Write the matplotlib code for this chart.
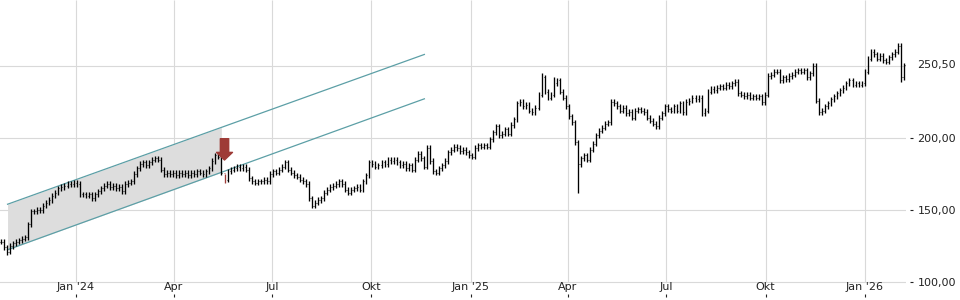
import matplotlib
matplotlib.use('Agg')
import matplotlib.pyplot as plt
import matplotlib.dates as mdates
import numpy as np
import pandas as pd

# ---------------- data ----------------
close = [
    128, 124, 121, 125, 127, 128, 129, 130, 131, 140,
    149, 149, 150, 150, 153, 155, 157, 160, 162, 165,
    166, 167, 168, 168, 169, 168, 161, 161, 160, 161,
    158, 161, 163, 165, 167, 168, 166, 167, 165, 166,
    163, 168, 169, 170, 175, 179, 182, 183, 181, 183,
    185, 186, 185, 178, 175, 176, 175, 176, 174, 176,
    175, 176, 174, 176, 175, 177, 176, 175, 177, 179,
    184, 188, 187, 176, 171, 177, 178, 179, 180, 179,
    180, 178, 172, 170, 169, 170, 170, 171, 170, 175,
    177, 176, 178, 180, 183, 178, 176, 174, 173, 171,
    170, 168, 158, 153, 155, 157, 158, 162, 164, 166,
    167, 168, 170, 168, 164, 162, 164, 165, 166, 164,
    170, 174, 183, 182, 180, 181, 183, 182, 185, 184,
    185, 183, 181, 182, 179, 181, 178, 185, 189, 186,
    180, 193, 184, 177, 176, 179, 181, 184, 190, 192,
    194, 193, 191, 192, 190, 188, 187, 193, 195, 194,
    195, 194, 199, 204, 208, 202, 203, 206, 203, 209,
    213, 224, 225, 222, 223, 219, 218, 221, 230, 242,
    232, 228, 230, 238, 240, 232, 228, 222, 215, 211,
    197, 182, 186, 188, 185, 192, 196, 202, 205, 207,
    210, 211, 225, 224, 222, 219, 221, 217, 218, 214,
    219, 220, 219, 218, 214, 212, 210, 208, 214, 217,
    222, 220, 219, 222, 219, 224, 218, 225, 226, 228,
    227, 228, 217, 219, 232, 234, 233, 235, 236, 235,
    237, 236, 238, 239, 231, 230, 229, 230, 228, 229,
    228, 229, 225, 230, 243, 244, 246, 246, 240, 242,
    241, 243, 244, 246, 247, 246, 247, 242, 245, 250,
    226, 218, 219, 222, 224, 227, 229, 231, 233, 235,
    238, 240, 237, 238, 237, 238, 246, 255, 260, 258,
    255, 257, 254, 253, 256, 258, 260, 264, 242, 250.5,
]
first_date, last_date = '2023-10-24', '2026-02-06'
low_override = {2: 119, 191: 162, 298: 239, 74: 169}
high_override = {141: 195, 179: 245, 183: 242, 269: 252, 297: 266, 74: 175, 73: 189}
signal_idx = 74

channel_dates = ['2023-10-30', '2024-11-19']
channel_shade_end = '2024-05-15'
channel_upper = [154.0, 258.0]
channel_lower = [122.4, 227.2]

tick_dates = ['2024-01-01', '2024-04-01', '2024-07-01', '2024-10-01',
              '2025-01-01', '2025-04-01', '2025-07-01', '2025-10-01', '2026-01-01']
tick_labels = ["Jan '24", "Apr", "Jul", "Okt", "Jan '25", "Apr", "Jul", "Okt", "Jan '26"]
y_ticks = [100, 150, 200, 250]
y_labels = ['100,00', '150,00', '200,00', '']

# ---------------- figure ----------------
fig = plt.figure(figsize=(9.6, 3.0), dpi=100)
ax = fig.add_axes([0, 0.01, 906 / 960, 0.99])

ymin, ymax = 89.6, 295.8
xmin, xmax = mdates.datestr2num('2023-10-23'), mdates.datestr2num('2026-02-08')
ax.set_xlim(xmin, xmax)
ax.set_ylim(ymin, ymax)

grid_c = '#d9d9d9'
tnum = mdates.datestr2num(tick_dates)
for y in y_ticks:
    ax.axhline(y, color=grid_c, lw=0.8, zorder=0)
ax.vlines(tnum, 100, ymax, color=grid_c, lw=0.8, zorder=0)

# channel
cx = mdates.datestr2num(channel_dates)
shade_end = mdates.datestr2num(channel_shade_end)
sx = np.array([cx[0], shade_end])
su = np.interp(sx, cx, channel_upper)
sl = np.interp(sx, cx, channel_lower)
ax.fill_between(sx, sl, su, color='#dddddd', lw=0, zorder=1)
teal = '#5c9fa6'
ax.plot(cx, channel_upper, color=teal, lw=0.9, zorder=2)
ax.plot(cx, channel_lower, color=teal, lw=0.9, zorder=2)

# OHLC bars
d = mdates.date2num(pd.date_range(first_date, last_date, periods=len(close)).to_pydatetime())
c = np.array(close, dtype=float)
o = np.concatenate([[c[0]], c[:-1]])
wick = 1.8
hi = np.maximum(o, c) + wick
lo = np.minimum(o, c) - wick
for k, v in high_override.items():
    hi[k] = v
for k, v in low_override.items():
    lo[k] = v
red = '#9e3b37'
cols = ['black'] * len(c)
cols[signal_idx] = red
ax.vlines(d, lo, hi, colors=cols, lw=0.95, zorder=3)
ax.hlines(o, d - 0.8, d, colors=cols, lw=0.6, zorder=3)
ax.hlines(c, d, d + 0.8, colors=cols, lw=0.6, zorder=3)

# signal arrow
ax.annotate('', xy=(d[signal_idx], 184.7), xytext=(d[signal_idx], 199.5),
            arrowprops=dict(arrowstyle='simple,head_length=0.55,head_width=1.15,tail_width=0.6',
                            mutation_scale=10, color=red, shrinkA=0, shrinkB=0), zorder=4)

# axes styling
for s in ax.spines.values():
    s.set_visible(False)
ax.set_xticks(tnum)
ax.set_xticklabels(tick_labels)
ax.tick_params(axis='x', direction='in', length=2.2, width=0.8, pad=-11,
               labelsize=8, colors='#222222')
ax.yaxis.tick_right()
ax.spines['right'].set_position(('outward', 3))
ax.set_yticks(y_ticks)
ax.set_yticklabels(y_labels)
ax.tick_params(axis='y', direction='out', length=2.2, width=0.8, pad=3,
               labelsize=8, colors='#222222')
ax.yaxis.get_major_ticks()[3].tick2line.set_visible(False)

last = c[-1]
ax.annotate(f"{last:.2f}".replace('.', ','), xy=(1, last), xycoords=('axes fraction', 'data'),
            xytext=(8.2, 0), textcoords='offset points', va='center', ha='left',
            fontsize=8, color='#222222', annotation_clip=False)

fig.savefig('out.png', dpi=100)
